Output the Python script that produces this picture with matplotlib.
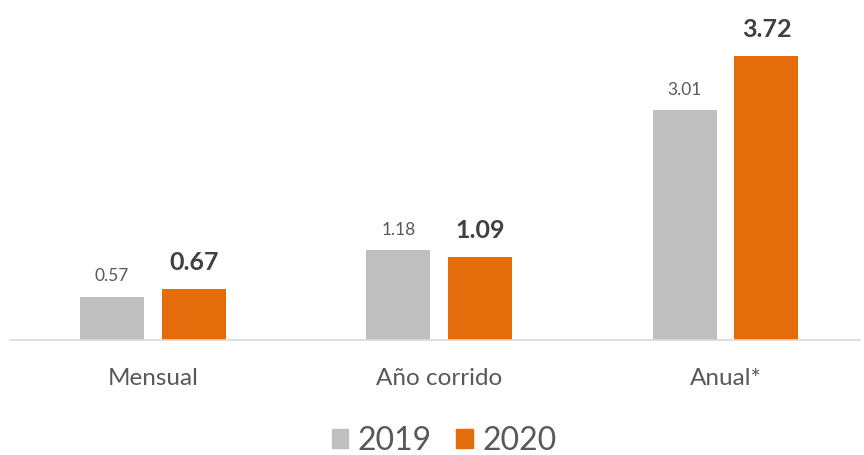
import matplotlib
matplotlib.use("Agg")
import matplotlib.pyplot as plt
import numpy as np
from matplotlib.patches import Patch

categories = ["Mensual", "Año corrido", "Anual*"]
series_names = ["2019", "2020"]
values_2019 = [0.57, 1.18, 3.01]
values_2020 = [0.67, 1.09, 3.72]

plt.rcParams['font.family'] = ['Lato', 'DejaVu Sans']

gray = "#BFBFBF"
orange = "#E46C0A"
txt = "#595959"

fig = plt.figure(figsize=(8.64, 4.55), dpi=100)
ax = fig.add_axes([10/864, 1-340/455, 850/864, 320/455])

x = np.arange(len(categories))
w = 0.224
off = 0.143
ax.bar(x - off, values_2019, w, color=gray, label=series_names[0])
ax.bar(x + off, values_2020, w, color=orange, label=series_names[1])

for xi, v in zip(x - off, values_2019):
    ax.text(xi, v + 0.16, f"{v:.2f}", ha="center", va="bottom", fontsize=12.5, color=txt)
for xi, v in zip(x + off, values_2020):
    ax.text(xi, v + 0.2, f"{v:.2f}", ha="center", va="bottom", fontsize=18, fontweight="bold", color="#404040")

ax.set_xlim(-0.5, 2.47)
ax.set_ylim(0, 320/76.3)
ax.set_xticks(x)
ax.set_xticklabels(categories, fontsize=17.5, color=txt)
ax.tick_params(axis="x", length=0, pad=20)
ax.set_yticks([])
for s in ["top", "right", "left"]:
    ax.spines[s].set_visible(False)
ax.spines["bottom"].set_color("#D9D9D9")
ax.spines["bottom"].set_linewidth(1.2)

handles = [Patch(color=gray), Patch(color=orange)]
fig.legend(handles, series_names, loc="center", bbox_to_anchor=(444/864, 1-441/455),
           ncol=2, frameon=False, fontsize=23, handlelength=0.52, handleheight=0.52,
           handletextpad=0.3, columnspacing=0.75, labelcolor=txt)

fig.savefig("out.png", dpi=100)
